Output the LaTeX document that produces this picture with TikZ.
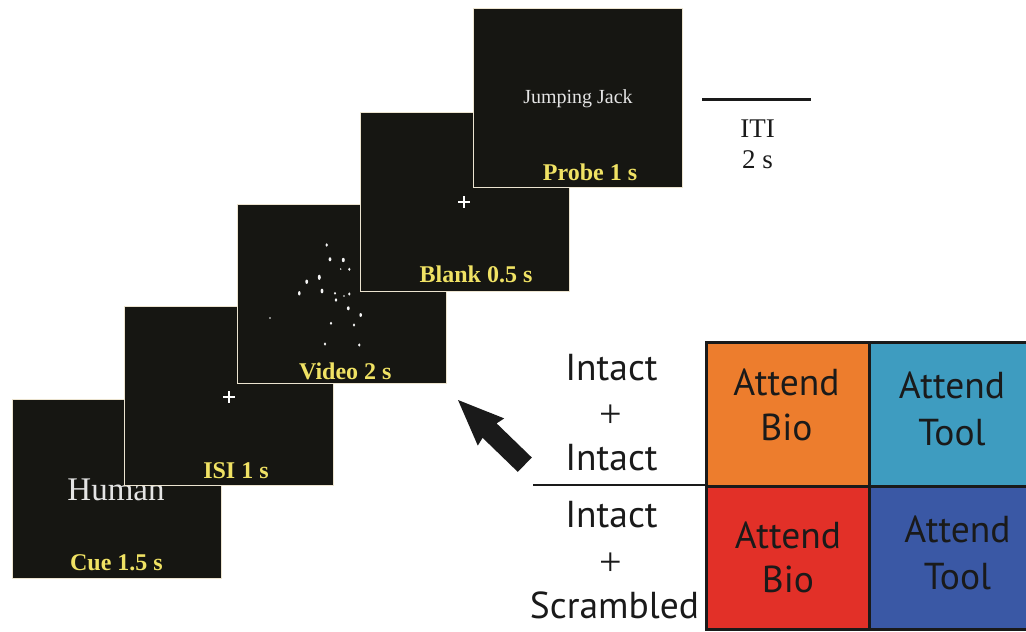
\documentclass[tikz,border=0pt]{standalone}
\usepackage{fontspec}
\setmainfont{Liberation Serif}
\newfontfamily\condfont{PT Sans}

\definecolor{screenbg}{RGB}{22,22,18}
\definecolor{screenedge}{RGB}{236,228,208}
\definecolor{labelyellow}{RGB}{240,226,100}
\definecolor{cuegray}{RGB}{228,228,228}
\definecolor{cellorange}{RGB}{237,125,45}
\definecolor{cellcyan}{RGB}{62,156,192}
\definecolor{cellred}{RGB}{226,48,40}
\definecolor{cellblue}{RGB}{58,88,165}
\definecolor{ink}{RGB}{26,26,26}

\tikzset{
  screen/.style={draw=screenedge, line width=1.2pt, fill=screenbg,
    minimum width=209pt, minimum height=179pt, inner sep=0pt, anchor=north west},
  timelabel/.style={text=labelyellow, inner sep=0pt, anchor=base,
    font=\bfseries\fontsize{24}{24}\selectfont},
  fixcross/.style={draw=white, line width=1.3pt},
  dot/.style={fill=white!92!gray},
  cell/.style={draw=ink, line width=3pt, inner sep=0pt, anchor=north west},
  celltext/.style={text=ink, inner sep=0pt, anchor=base,
    font=\condfont\fontsize{37.5}{37.5}\selectfont},
  condtext/.style={text=ink, inner sep=0pt, anchor=base,
    font=\condfont\fontsize{37.5}{37.5}\selectfont},
  condplus/.style={text=ink, inner sep=0pt, anchor=center,
    font=\fontsize{40}{40}\selectfont},
}

\begin{document}
\begin{tikzpicture}[x=1pt,y=-1pt]
\useasboundingbox (0,0) rectangle (1026,632);
\clip (0,0) rectangle (1026,632);

% ---- trial sequence: each screen overlaps the previous one ----
\node[screen] (cue) at (12,399) {};
\node[text=cuegray, inner sep=0pt, anchor=base, font=\fontsize{33}{33}\selectfont]
  (cueword) at (116,500) {Human};
\node[timelabel] (cuelbl) at (116.5,570) {Cue 1.5 s};

\node[screen] (isi) at (124,306) {};
\draw[fixcross] (229,391) -- (229,403) (223,397) -- (235,397);
\node[timelabel] (isilbl) at (236,478) {ISI 1 s};

\node[screen] (video) at (237,204) {};
\foreach \px/\py/\rx/\ry in {
  326.7/245/1.3/1.8, 330/259.3/1.4/2.0, 343.3/260/1.5/2.2, 340.7/269/0.8/0.8,
  349.3/269.3/1.2/1.6, 319.3/277.3/1.5/2.6, 306.7/281.7/1.4/2.2, 299.3/293.3/1.3/2.2,
  322/291/1.4/2.4, 335/293.3/1.1/1.4, 344/296/0.8/0.8, 349.3/294/1.2/1.6,
  336/300/1.3/1.9, 348.3/308.3/1.4/2.0, 360.7/315/1.3/2.0, 270/318/0.8/0.8,
  331/323.3/1.2/1.6, 354/325/1.2/1.6, 325/344/1.2/1.7, 359.3/345/1.3/1.6}
  \fill[dot] (\px,\py) ellipse ({\rx} and {\ry});
\node[timelabel] (videolbl) at (345.3,379.3) {Video 2 s};

\node[screen] (blank) at (360,112) {};
\draw[fixcross] (464,196) -- (464,208) (458,202) -- (470,202);
\node[timelabel] (blanklbl) at (476,282) {Blank 0.5 s};

\node[screen] (probe) at (473,8) {};
\node[text=cuegray, inner sep=0pt, anchor=base, font=\fontsize{20}{20}\selectfont]
  (probeword) at (578,103) {Jumping Jack};
\node[timelabel] (probelbl) at (590,180) {Probe 1 s};

% ---- inter-trial interval ----
\coordinate (itiL) at (702,99.5);
\coordinate (itiR) at (811,99.5);
\draw[ink, line width=2.3pt] (itiL) -- (itiR);
\node[text=ink, inner sep=0pt, anchor=base, font=\fontsize{27}{27}\selectfont]
  (iti) at (757.5,137) {ITI};
\node[text=ink, inner sep=0pt, anchor=base, font=\fontsize{27}{27}\selectfont]
  (itidur) at (757.5,168) {2 s};

% ---- arrow pointing back to the trial sequence ----
\fill[ink] (458,400) -- (504.2,418.4) -- (496.6,423.4) -- (531.8,457.5)
  -- (517.8,471.9) -- (482.6,437.8) -- (477.8,445.6) -- cycle;

% ---- stimulus conditions ----
\node[condtext] (c1a) at (611.5,380) {Intact};
\node[condplus] (c1b) at (611,416.5) {+};
\node[condtext] (c1c) at (611.5,470) {Intact};
\node[condtext] (c2a) at (611.5,527) {Intact};
\node[condplus] (c2b) at (610.5,564) {+};
\node[condtext] (c2c) at (614.5,618) {Scrambled};

% ---- attention conditions grid ----
\node[cell, fill=cellorange, minimum width=163pt, minimum height=144pt] (bio1) at (705,341) {};
\node[cell, fill=cellcyan,   minimum width=168pt, minimum height=144pt] (tool1) at (868,341) {};
\node[cell, fill=cellred,    minimum width=163pt, minimum height=143pt] (bio2) at (705,485) {};
\node[cell, fill=cellblue,   minimum width=168pt, minimum height=143pt] (tool2) at (868,485) {};

\coordinate (sepL) at (533,485);
\draw[ink, line width=1.4pt] (sepL) -- (sepL -| bio1.west);

\node[celltext] (b1a) at (786.5,395) {Attend};
\node[celltext] (b1b) at (786.5,440) {Bio};
\node[celltext] (t1a) at (952,398) {Attend};
\node[celltext] (t1b) at (952,445) {Tool};
\node[celltext] (b2a) at (788,548) {Attend};
\node[celltext] (b2b) at (788,592) {Bio};
\node[celltext] (t2a) at (957.5,542) {Attend};
\node[celltext] (t2b) at (957.5,589) {Tool};
\end{tikzpicture}
\end{document}
